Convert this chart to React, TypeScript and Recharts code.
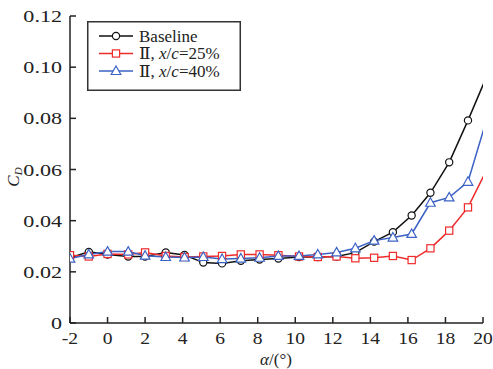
import { LineChart, Line, XAxis, YAxis, Legend } from "recharts";

// angle of attack (deg) and drag coefficient per configuration
const alpha = [-2, -1, 0, 1.1, 2, 3.1, 4.1, 5.1, 6.1, 7.1, 8.1, 9.1, 10.2, 11.2, 12.2, 13.2, 14.2, 15.2, 16.2, 17.2, 18.2, 19.2, 20.2];
const baseline = [0.0255, 0.0278, 0.0268, 0.026, 0.026, 0.0276, 0.0266, 0.0236, 0.0233, 0.0243, 0.0248, 0.0252, 0.0258, 0.0258, 0.026, 0.0275, 0.0318, 0.0355, 0.042, 0.0509, 0.0628, 0.0792, 0.0965];
const slot25 = [0.0265, 0.026, 0.027, 0.0268, 0.0276, 0.0262, 0.0258, 0.026, 0.0262, 0.0268, 0.0268, 0.0265, 0.026, 0.0258, 0.026, 0.0253, 0.0255, 0.0262, 0.0246, 0.0292, 0.0361, 0.0452, 0.0599];
const slot40 = [0.0252, 0.0268, 0.0279, 0.0279, 0.0263, 0.0258, 0.0256, 0.0258, 0.025, 0.0252, 0.0255, 0.0262, 0.0262, 0.0268, 0.0276, 0.0292, 0.0322, 0.0334, 0.0348, 0.047, 0.0491, 0.0552, 0.0797];

const xTicks = [-2, 0, 2, 4, 6, 8, 10, 12, 14, 16, 18, 20];
const yTicks = [0, 0.02, 0.04, 0.06, 0.08, 0.1, 0.12];
const X_MAX = 20;

const data = alpha.map((a, i) => ({ a, base: baseline[i], s25: slot25[i], s40: slot40[i] }));

const FONT = "'Liberation Serif', 'DejaVu Serif', serif";
const AXIS = "#222";
const BLACK = "#111";
const RED = "#ee2b2b";
const BLUE = "#3b62c4";

// points past the right edge keep their line segment but get no marker
const outside = (p: any) => p.payload && p.payload.a > X_MAX;

const Circle = (p: any) =>
  outside(p) ? <g key={p.index} /> : (
    <circle key={p.index} cx={p.cx} cy={p.cy} r={3.6} fill="#fff" stroke={BLACK} strokeWidth={1.2} />
  );
const Square = (p: any) =>
  outside(p) ? <g key={p.index} /> : (
    <rect key={p.index} x={p.cx - 3.6} y={p.cy - 3.6} width={7.2} height={7.2} fill="#fff" stroke={RED} strokeWidth={1.2} />
  );
const Triangle = (p: any) =>
  outside(p) ? <g key={p.index} /> : (
    <path
      key={p.index}
      d={`M${p.cx},${p.cy - 5} L${p.cx + 4.8},${p.cy + 3.5} L${p.cx - 4.8},${p.cy + 3.5} Z`}
      fill="#fff"
      stroke={BLUE}
      strokeWidth={1.2}
    />
  );

// ticks point into the plot, labels stay outside
const XTick = ({ x, y, payload }: any) => (
  <g>
    <line x1={x} x2={x} y1={y} y2={y - 6} stroke={AXIS} strokeWidth={1.5} />
    <text
      transform={`translate(${x},${y + 21}) scale(1.15,1)`}
      textAnchor="middle"
      fontFamily={FONT}
      fontSize={17}
      fill="#222"
    >
      {payload.value}
    </text>
  </g>
);

const YTick = ({ x, y, payload }: any) => (
  <g>
    <line x1={x} x2={x + 6} y1={y} y2={y} stroke={AXIS} strokeWidth={1.5} />
    <text
      transform={`translate(${x - 8},${y + 6}) scale(1.3,1)`}
      textAnchor="end"
      fontFamily={FONT}
      fontSize={17}
      fill="#222"
    >
      {payload.value === 0 ? "0" : payload.value.toFixed(2)}
    </text>
  </g>
);

const Entry = ({ y, color, mark, children }: any) => (
  <g>
    <line x1={12} x2={46} y1={y} y2={y} stroke={color} strokeWidth={1.5} />
    {mark({ cx: 29, cy: y })}
    <text x={52} y={y + 5.5} fontFamily={FONT} fontSize={17} fill="#222">
      {children}
    </text>
  </g>
);

const renderLegend = () => (
  <svg width={154} height={70} style={{ display: "block" }}>
    <rect x={0.75} y={0.75} width={152.5} height={68.5} fill="#fff" stroke="#333" strokeWidth={1.5} />
    <Entry y={15} color={BLACK} mark={Circle}>Baseline</Entry>
    <Entry y={32.5} color={RED} mark={Square}>
      Ⅱ, <tspan fontStyle="italic">x</tspan>/<tspan fontStyle="italic">c</tspan>=25%
    </Entry>
    <Entry y={50} color={BLUE} mark={Triangle}>
      Ⅱ, <tspan fontStyle="italic">x</tspan>/<tspan fontStyle="italic">c</tspan>=40%
    </Entry>
  </svg>
);

export default function App() {
  return (
    <div style={{ position: "absolute", left: 0, top: 0, background: "#fff" }}>
      <LineChart width={493} height={369} data={data} margin={{ top: 16, right: 10, left: 0, bottom: 0 }}>
        <XAxis
          dataKey="a"
          type="number"
          domain={[-2, X_MAX]}
          ticks={xTicks}
          interval={0}
          allowDataOverflow
          height={46}
          tickSize={0}
          tickMargin={0}
          tickLine={false}
          axisLine={{ stroke: AXIS, strokeWidth: 1.5 }}
          tick={<XTick />}
          label={{
            content: () => (
              <text x={276} y={365} textAnchor="middle" fontFamily={FONT} fontSize={17} fill="#222">
                <tspan fontStyle="italic">α</tspan>/(°)
              </text>
            ),
          }}
        />
        <YAxis
          type="number"
          domain={[0, 0.12]}
          ticks={yTicks}
          interval={0}
          allowDataOverflow
          width={70}
          tickSize={0}
          tickMargin={0}
          tickLine={false}
          axisLine={{ stroke: AXIS, strokeWidth: 1.5 }}
          tick={<YTick />}
          label={{
            content: () => (
              <text transform="translate(19,177) rotate(-90)" textAnchor="middle" fontFamily={FONT} fontSize={17} fill="#222">
                <tspan fontStyle="italic">C</tspan>
                <tspan fontStyle="italic" fontSize={11} dy={3}>D</tspan>
              </text>
            ),
          }}
        />
        {/* middle/center alignment keeps the legend from reserving chart space */}
        <Legend
          layout="horizontal"
          verticalAlign="middle"
          align="center"
          content={renderLegend}
          wrapperStyle={{ position: "absolute", left: 87, top: 21, width: 154, height: 70 }}
        />
        <Line dataKey="base" stroke={BLACK} strokeWidth={1.5} dot={Circle} isAnimationActive={false} />
        <Line dataKey="s25" stroke={RED} strokeWidth={1.5} dot={Square} isAnimationActive={false} />
        <Line dataKey="s40" stroke={BLUE} strokeWidth={1.5} dot={Triangle} isAnimationActive={false} />
      </LineChart>
    </div>
  );
}
